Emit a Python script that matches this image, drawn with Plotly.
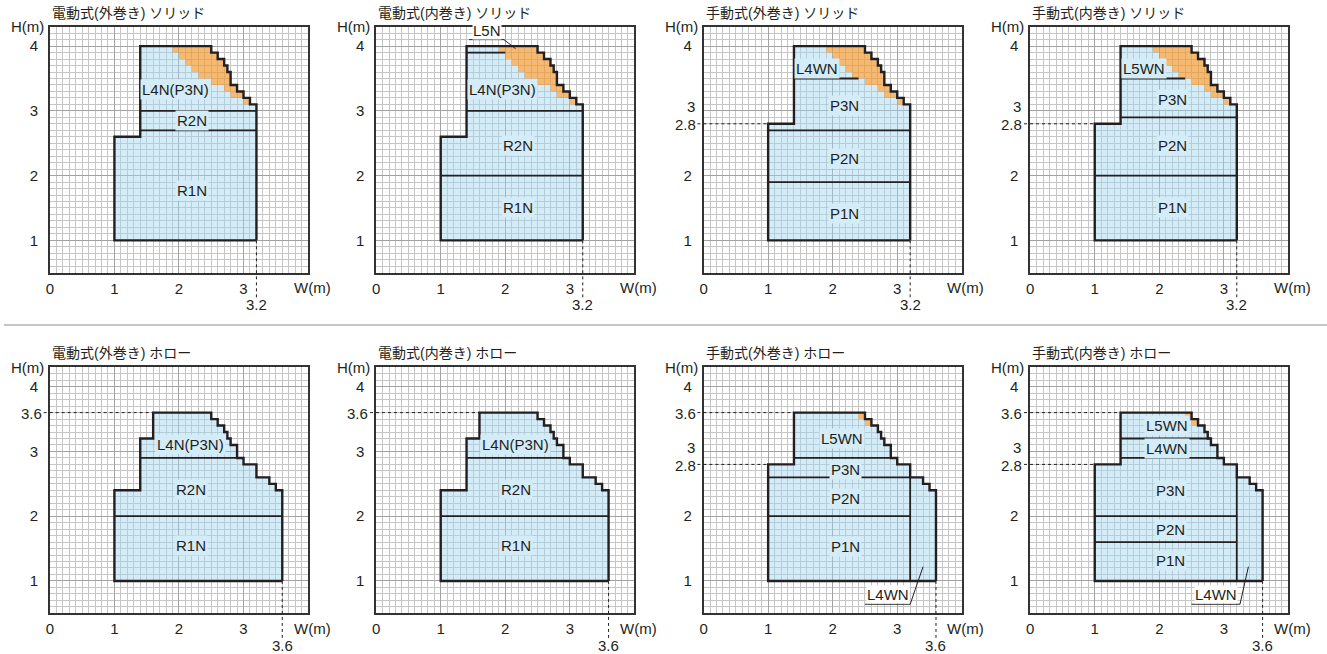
import plotly.graph_objects as go

TITLES = [
    "電動式(外巻き) ソリッド", "電動式(内巻き) ソリッド",
    "手動式(外巻き) ソリッド", "手動式(内巻き) ソリッド",
    "電動式(外巻き) ホロー", "電動式(内巻き) ホロー",
    "手動式(外巻き) ホロー", "手動式(内巻き) ホロー",
]

X_TICKS = [0, 1, 2, 3]
Y_TICKS = [1, 2, 3, 4]
X_RANGE = [0, 4]
Y_RANGE = [0.5, 4.3]

# stepped upper-right edge of the solid panels (W, H), ends at bottom right corner
SOLID_STEP_X = [2.5, 2.5, 2.6, 2.6, 2.7, 2.7, 2.75, 2.75, 2.8, 2.8, 2.9, 2.9, 3.0, 3.0, 3.1, 3.1, 3.2, 3.2]
SOLID_STEP_Y = [4.0, 3.9, 3.9, 3.8, 3.8, 3.7, 3.7, 3.6, 3.6, 3.4, 3.4, 3.3, 3.3, 3.2, 3.2, 3.1, 3.1, 1.0]
# lower edge of the orange zone in the solid panels
SOLID_LIMIT_X = [1.9, 1.9, 2.0, 2.0, 2.1, 2.1, 2.2, 2.2, 2.3, 2.3, 2.5, 2.5, 2.7, 2.7, 2.8, 2.8, 3.0, 3.0, 3.2, 3.2]
SOLID_LIMIT_Y = [4.0, 3.9, 3.9, 3.8, 3.8, 3.7, 3.7, 3.6, 3.6, 3.5, 3.5, 3.4, 3.4, 3.3, 3.3, 3.2, 3.2, 3.1, 3.1, 1.0]

# stepped upper-right edge of the hollow panels
HOLLOW_STEP_X = [2.5, 2.5, 2.6, 2.6, 2.7, 2.7, 2.75, 2.75, 2.8, 2.8, 2.9, 2.9, 3.0, 3.0,
                 3.2, 3.2, 3.4, 3.4, 3.5, 3.5, 3.6, 3.6]
HOLLOW_STEP_Y = [3.6, 3.5, 3.5, 3.4, 3.4, 3.3, 3.3, 3.2, 3.2, 3.1, 3.1, 2.9, 2.9, 2.8,
                 2.8, 2.6, 2.6, 2.5, 2.5, 2.4, 2.4, 1.0]
# orange cells of the manual hollow panels
HOLLOW_ORANGE_X = [2.4, 2.5, 2.5, 2.4, 2.4, None, 2.5, 2.6, 2.6, 2.5, 2.5]
HOLLOW_ORANGE_Y = [3.6, 3.6, 3.5, 3.5, 3.6, None, 3.5, 3.5, 3.4, 3.4, 3.5]
HOLLOW_LIMIT_X = [2.4, 2.4, 2.5, 2.5]
HOLLOW_LIMIT_Y = [3.6, 3.5, 3.5, 3.4]

# left part of each outline, from bottom right corner round to the top edge
LEFT_X = [
    [3.2, 1.0, 1.0, 1.4, 1.4],
    [3.2, 1.0, 1.0, 1.4, 1.4],
    [3.2, 1.0, 1.0, 1.4, 1.4],
    [3.2, 1.0, 1.0, 1.4, 1.4],
    [3.6, 1.0, 1.0, 1.4, 1.4, 1.6, 1.6],
    [3.6, 1.0, 1.0, 1.4, 1.4, 1.6, 1.6],
    [3.6, 1.0, 1.0, 1.4, 1.4],
    [3.6, 1.0, 1.0, 1.4, 1.4],
]
LEFT_Y = [
    [1.0, 1.0, 2.6, 2.6, 4.0],
    [1.0, 1.0, 2.6, 2.6, 4.0],
    [1.0, 1.0, 2.8, 2.8, 4.0],
    [1.0, 1.0, 2.8, 2.8, 4.0],
    [1.0, 1.0, 2.4, 2.4, 3.2, 3.2, 3.6],
    [1.0, 1.0, 2.4, 2.4, 3.2, 3.2, 3.6],
    [1.0, 1.0, 2.8, 2.8, 3.6],
    [1.0, 1.0, 2.8, 2.8, 3.6],
]

# division lines: horizontal (H, W from, W to), vertical (W, H from, H to)
DIV_H = [
    [(2.7, 1.4, 3.2), (3.0, 1.4, 3.2)],
    [(2.0, 1.0, 3.2), (3.0, 1.4, 3.2), (3.9, 1.4, 2.0)],
    [(1.9, 1.0, 3.2), (2.7, 1.0, 3.2), (3.5, 1.4, 2.4)],
    [(2.0, 1.0, 3.2), (2.9, 1.4, 3.2), (3.5, 1.4, 2.4)],
    [(2.0, 1.0, 3.6), (2.9, 1.4, 2.9)],
    [(2.0, 1.0, 3.6), (2.9, 1.4, 2.9)],
    [(2.0, 1.0, 3.2), (2.6, 1.0, 3.2), (2.9, 1.4, 2.9)],
    [(1.6, 1.0, 3.2), (2.0, 1.0, 3.2), (2.9, 1.4, 2.9), (3.2, 1.4, 2.8)],
]
DIV_V = [[], [], [], [], [], [], [(3.2, 1.0, 2.6)], [(3.2, 1.0, 2.6)]]

LABELS = [
    [("L4N(P3N)", 1.94, 3.33), ("R2N", 2.2, 2.85), ("R1N", 2.2, 1.77)],
    [("L4N(P3N)", 1.96, 3.33), ("R2N", 2.2, 2.47), ("R1N", 2.2, 1.5)],
    [("L4WN", 1.75, 3.65), ("P3N", 2.19, 3.08), ("P2N", 2.19, 2.27), ("P1N", 2.19, 1.42)],
    [("L5WN", 1.76, 3.65), ("P3N", 2.2, 3.18), ("P2N", 2.2, 2.46), ("P1N", 2.2, 1.5)],
    [("L4N(P3N)", 2.18, 3.1), ("R2N", 2.18, 2.42), ("R1N", 2.18, 1.55)],
    [("L4N(P3N)", 2.16, 3.1), ("R2N", 2.16, 2.42), ("R1N", 2.16, 1.55)],
    [("L5WN", 2.14, 3.2), ("P3N", 2.2, 2.72), ("P2N", 2.2, 2.28), ("P1N", 2.2, 1.53)],
    [("L5WN", 2.12, 3.4), ("L4WN", 2.12, 3.05), ("P3N", 2.18, 2.4), ("P2N", 2.18, 1.8), ("P1N", 2.18, 1.32)],
]

# dotted guides: horizontal (H, W where it meets the outline) and the max width
GUIDE_H = [[], [], [(2.8, 1.0)], [(2.8, 1.0)], [(3.6, 1.6)], [(3.6, 1.6)],
           [(3.6, 1.4), (2.8, 1.0)], [(3.6, 1.4), (2.8, 1.0)]]
GUIDE_W = [3.2, 3.2, 3.2, 3.2, 3.6, 3.6, 3.6, 3.6]

CALLOUTS = {
    1: ("L5N", [1.44, 1.98, 2.16], [4.10, 4.10, 3.96]),
    6: ("L4WN", [2.5, 3.2, 3.4], [0.64, 0.64, 1.22]),
    7: ("L4WN", [2.5, 3.25, 3.38], [0.64, 0.64, 1.22]),
}

# layout (pixels)
W, H = 1327, 654
PANEL_LEFT = [46, 373.3, 701.7, 1029.3]
PANEL_TOP = [26.7, 367.3]
PW, PH = 259, 246

FONT = "Liberation Sans, Arial, Noto Sans CJK JP, sans-serif"
INK = "#231f20"
BLUE = "rgba(160,210,240,0.45)"
ORANGE = "rgba(242,152,45,0.68)"
LABEL_BG = "#d4ebf8"

fig = go.Figure()
shapes = []
annotations = []
axes = {}

for i in range(8):
    row, col = divmod(i, 4)
    sfx = "" if i == 0 else str(i + 1)
    xa, ya = "x" + sfx, "y" + sfx
    solid = row == 0

    if solid:
        step_x, step_y = SOLID_STEP_X, SOLID_STEP_Y
        limit_x, limit_y = SOLID_LIMIT_X, SOLID_LIMIT_Y
        orange_x = [1.9] + step_x[:-1] + limit_x[:-1][::-1]
        orange_y = [4.0] + step_y[:-1] + limit_y[:-1][::-1]
    else:
        step_x, step_y = HOLLOW_STEP_X, HOLLOW_STEP_Y
        if col >= 2:
            limit_x = HOLLOW_LIMIT_X + step_x[4:]
            limit_y = HOLLOW_LIMIT_Y + step_y[4:]
            orange_x, orange_y = HOLLOW_ORANGE_X, HOLLOW_ORANGE_Y
        else:
            limit_x, limit_y = step_x, step_y
            orange_x = orange_y = None

    common = dict(xaxis=xa, yaxis=ya, mode="lines", hoverinfo="skip", showlegend=False)

    fig.add_trace(go.Scatter(x=LEFT_X[i] + limit_x, y=LEFT_Y[i] + limit_y, fill="toself",
                             fillcolor=BLUE, line=dict(width=0), **common))
    if orange_x is not None:
        fig.add_trace(go.Scatter(x=orange_x, y=orange_y, fill="toself",
                                 fillcolor=ORANGE, line=dict(width=0), **common))

    dx, dy = [], []
    for yv, x0, x1 in DIV_H[i]:
        dx += [x0, x1, None]
        dy += [yv, yv, None]
    for xv, y0, y1 in DIV_V[i]:
        dx += [xv, xv, None]
        dy += [y0, y1, None]
    fig.add_trace(go.Scatter(x=dx, y=dy, line=dict(color=INK, width=1.8), **common))

    fig.add_trace(go.Scatter(x=LEFT_X[i] + step_x, y=LEFT_Y[i] + step_y,
                             line=dict(color=INK, width=2.4), **common))

    if i in CALLOUTS:
        txt, cx, cy = CALLOUTS[i]
        fig.add_trace(go.Scatter(x=cx, y=cy, line=dict(color=INK, width=1), **common))
        annotations.append(dict(text=txt, x=(cx[0] + cx[1]) / 2, y=cy[0], xref=xa, yref=ya,
                                xanchor="center", yanchor="bottom", showarrow=False,
                                font=dict(size=15, color=INK, family=FONT),
                                bgcolor="white", borderpad=0))

    has_28 = any(g[0] == 2.8 for g in GUIDE_H[i])

    # axes
    left = PANEL_LEFT[col]
    top = PANEL_TOP[row]
    axes["xaxis" + sfx] = dict(
        domain=[left / W, (left + PW) / W], anchor=ya, range=X_RANGE,
        tickmode="array", tickvals=X_TICKS, ticktext=[str(v) for v in X_TICKS],
        showgrid=True, gridcolor="#a3a3a3", gridwidth=1,
        minor=dict(tickmode="linear", tick0=0, dtick=0.1, showgrid=True,
                   gridcolor="#c6c6c6", gridwidth=1),
        showline=True, mirror=True, linecolor="#333", linewidth=1.6,
        zeroline=False, ticks="", ticklabelstandoff=1,
        tickfont=dict(size=15, color=INK, family=FONT),
    )
    axes["yaxis" + sfx] = dict(
        domain=[(H - top - PH) / H, (H - top) / H], anchor=xa, range=Y_RANGE,
        tickmode="array", tickvals=Y_TICKS,
        ticktext=["" if (has_28 and v == 3) else str(v) for v in Y_TICKS],
        showgrid=True, gridcolor="#a3a3a3", gridwidth=1,
        minor=dict(tickmode="linear", tick0=0.5, dtick=0.1, showgrid=True,
                   gridcolor="#c6c6c6", gridwidth=1),
        showline=True, mirror=True, linecolor="#333", linewidth=1.6,
        zeroline=False, ticks="", ticklabelstandoff=7,
        tickfont=dict(size=15, color=INK, family=FONT),
    )

    xdom, ydom = xa + " domain", ya + " domain"

    # "3" is nudged up where it sits next to the 2.8 label
    if has_28:
        annotations.append(dict(text="3", x=0, y=3, xref=xdom, yref=ya, xanchor="right",
                                yanchor="middle", xshift=-7, yshift=4, showarrow=False,
                                font=dict(size=15, color=INK, family=FONT)))

    # dotted guides and their extra tick labels
    for yv, xend in GUIDE_H[i]:
        shapes.append(dict(type="line", xref=xdom, yref=ya, x0=-0.024,
                           x1=(xend - X_RANGE[0]) / (X_RANGE[1] - X_RANGE[0]), y0=yv, y1=yv,
                           line=dict(color=INK, width=1, dash="dot")))
        annotations.append(dict(text=str(yv), x=0, y=yv, xref=xdom, yref=ya, xanchor="right",
                                yanchor="middle", xshift=-6, yshift=-1, showarrow=False,
                                font=dict(size=15, color=INK, family=FONT)))
    gw = GUIDE_W[i]
    shapes.append(dict(type="line", xref=xa, yref=ydom, x0=gw, x1=gw,
                       y0=(1.0 - Y_RANGE[0]) / (Y_RANGE[1] - Y_RANGE[0]), y1=-0.1,
                       line=dict(color=INK, width=1, dash="dot")))
    annotations.append(dict(text=str(gw), x=gw, y=0, xref=xa, yref=ydom, xanchor="center",
                            yanchor="middle", yshift=-32, showarrow=False,
                            font=dict(size=15, color=INK, family=FONT)))

    # region labels
    for txt, lx, ly in LABELS[i]:
        annotations.append(dict(text=txt, x=lx, y=ly, xref=xa, yref=ya, showarrow=False,
                                font=dict(size=15, color=INK, family=FONT),
                                bgcolor=LABEL_BG, borderpad=1))

    # titles and axis names
    annotations.append(dict(text=TITLES[i], x=0, y=1, xref=xdom, yref=ydom, xanchor="left",
                            yanchor="middle", yshift=14, showarrow=False,
                            font=dict(size=14, color=INK, family=FONT)))
    annotations.append(dict(text="H(m)", x=0, y=1, xref=xdom, yref=ydom, xanchor="right",
                            yanchor="middle", xshift=-4, showarrow=False,
                            font=dict(size=15, color=INK, family=FONT)))
    annotations.append(dict(text="W(m)", x=1, y=0, xref=xdom, yref=ydom, xanchor="center",
                            yanchor="middle", xshift=4, yshift=-15, showarrow=False,
                            font=dict(size=15, color=INK, family=FONT)))

# separator between the two rows
shapes.append(dict(type="line", xref="paper", yref="paper", x0=0, x1=1,
                   y0=(H - 325) / H, y1=(H - 325) / H, line=dict(color="#8c8c8c", width=1)))

fig.update_layout(
    width=W, height=H,
    margin=dict(l=0, r=0, t=0, b=0),
    paper_bgcolor="white", plot_bgcolor="white",
    shapes=shapes, annotations=annotations,
    font=dict(family=FONT, color=INK),
    **axes,
)

fig.write_html("out.html", config={"displayModeBar": False},
               post_script="document.body.style.margin = '0';")
